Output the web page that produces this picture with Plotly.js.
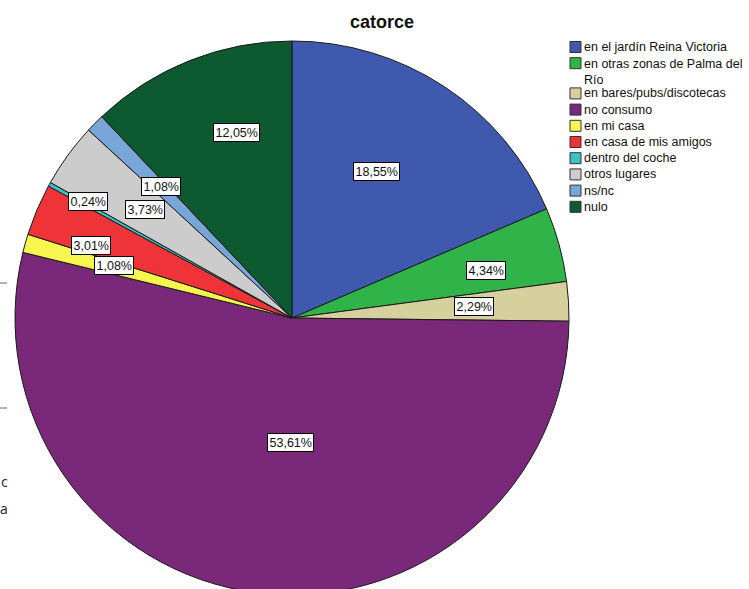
<!DOCTYPE html>
<html><head><meta charset="utf-8">
<script src="https://cdn.plot.ly/plotly-3.0.1.min.js"></script>
<style>html,body{margin:0;padding:0;overflow:hidden;background:#fff}#wrap{width:749px;height:589px;overflow:hidden}</style>
</head><body><div id="wrap"><div id="chart"></div></div>
<script>
// ---- data ----
const chartTitle = 'catorce';
const labels = ['en el jardín Reina Victoria', 'en otras zonas de Palma del Río', 'en bares/pubs/discotecas',
  'no consumo', 'en mi casa', 'en casa de mis amigos', 'dentro del coche', 'otros lugares', 'ns/nc', 'nulo'];
const legendLabels = ['en el jardín Reina Victoria', 'en otras zonas de Palma del<br>Río', 'en bares/pubs/discotecas',
  'no consumo', 'en mi casa', 'en casa de mis amigos', 'dentro del coche', 'otros lugares', 'ns/nc', 'nulo'];
const values = [18.55, 4.34, 2.29, 53.61, 1.08, 3.01, 0.24, 3.73, 1.08, 12.05];
const colors = ['#3E59AD', '#30B44A', '#D6D09C', '#7A287A', '#F8F64E', '#EE3339', '#3CC0C2', '#CCCCCC', '#79A6D9', '#0E5A30'];

// ---- layout-only placement ----
const labelRadius = [0.61, 0.72, 0.66, 0.45, 0.67, 0.77, 0.85, 0.66, 0.67, 0.70];
const labelAngleShift = [-3.2, 1.5, -0.3, -6.6, 0.7, -3.1, 0.9, 0.5, 0.4, 5.0];

const W = 749, H = 600;
const cx = 292, cy = 318, R = 277;
const FONT = 'Liberation Sans, Arial, sans-serif';

const total = values.reduce((a, b) => a + b, 0);
const annotations = [];
const shapes = [];
let cum = 0;
values.forEach((v, i) => {
  const mid = (cum + v / 2) / total * 360 + labelAngleShift[i];
  cum += v;
  const th = mid * Math.PI / 180;
  const px = cx + R * labelRadius[i] * Math.sin(th);
  const py = cy - R * labelRadius[i] * Math.cos(th);
  annotations.push({
    xref: 'paper', yref: 'paper', x: px / W, y: 1 - py / H, xanchor: 'center', yanchor: 'middle',
    text: v.toFixed(2).replace('.', ',') + '%', showarrow: false,
    bgcolor: '#ffffff', bordercolor: '#000000', borderwidth: 1, borderpad: 1.5,
    font: {family: FONT, size: 12.5, color: '#111'}
  });
});

// manual legend
let rowY = 47;
legendLabels.forEach((lab, i) => {
  const nLines = lab.split('<br>').length;
  shapes.push({type: 'rect', xref: 'paper', yref: 'paper',
    x0: 570 / W, x1: 581 / W, y0: 1 - (rowY + 5.5) / H, y1: 1 - (rowY - 5.5) / H,
    fillcolor: colors[i], line: {color: '#333', width: 1}});
  annotations.push({xref: 'paper', yref: 'paper', x: 582 / W,
    y: nLines > 1 ? 1 - (rowY - 8) / H : 1 - rowY / H,
    xanchor: 'left', yanchor: nLines > 1 ? 'top' : 'middle', align: 'left',
    text: lab, showarrow: false, font: {family: FONT, size: 12.5, color: '#111'}});
  rowY += 16.2 + (nLines - 1) * 14;
});

// cut-off fragments at left edge
[283, 408].forEach(y => shapes.push({type: 'line', xref: 'paper', yref: 'paper',
  x0: 0, x1: 7 / W, y0: 1 - y / H, y1: 1 - y / H, line: {color: '#666', width: 1}}));
[['c', 481], ['a', 508]].forEach(([t, y]) => annotations.push({xref: 'paper', yref: 'paper',
  x: 10 / W, y: 1 - y / H, xanchor: 'right', yanchor: 'middle', text: t, showarrow: false,
  font: {family: 'Open Sans, sans-serif', size: 14, color: '#222'}}));

const trace = {
  type: 'pie', labels: labels, values: values, sort: false, direction: 'clockwise', rotation: 0,
  marker: {colors: colors, line: {color: '#1a1a1a', width: 1}},
  textinfo: 'none', hoverinfo: 'label+percent', showlegend: false,
  domain: {x: [(cx - R) / W, (cx + R) / W], y: [1 - (cy + R) / H, 1 - (cy - R) / H]}
};

const layout = {
  width: W, height: H, margin: {l: 0, r: 0, t: 0, b: 0},
  paper_bgcolor: '#fff', showlegend: false,
  title: {text: '<b>' + chartTitle + '</b>', x: 382 / W, xanchor: 'center', y: 1 - 22 / H, yanchor: 'middle',
    font: {family: FONT, size: 18, color: '#111'}},
  annotations: annotations, shapes: shapes
};

Plotly.newPlot('chart', [trace], layout, {displayModeBar: false, staticPlot: true});
</script>
</body></html>
